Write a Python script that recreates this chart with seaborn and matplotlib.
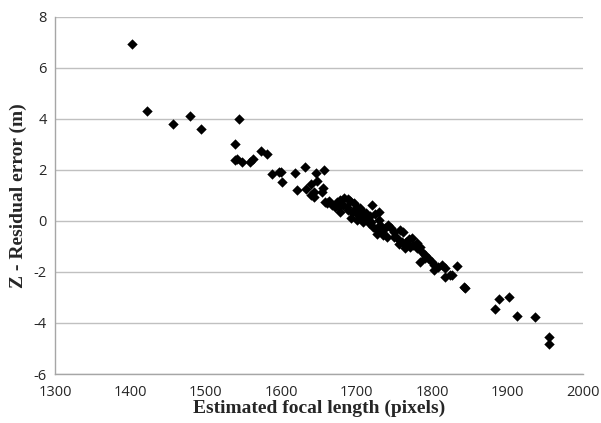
import matplotlib
matplotlib.use("Agg")
import matplotlib.pyplot as plt
import pandas as pd
import seaborn as sns

# values
focal_length = [
    1402, 1422, 1457, 1479, 1493, 1544, 1539, 1538, 1541, 1548,
    1559, 1563, 1573, 1581, 1588, 1597, 1599, 1601, 1618, 1621,
    1632, 1646, 1656, 1633, 1639, 1648, 1643, 1655, 1654, 1640,
    1643, 1658, 1661, 1663, 1667, 1671, 1674, 1678, 1683, 1688,
    1691, 1696, 1676, 1678, 1682, 1687, 1689, 1694, 1698, 1700,
    1705, 1707, 1710, 1702, 1713, 1720, 1718, 1724, 1729, 1700,
    1709, 1713, 1716, 1729, 1731, 1722, 1727, 1733, 1738, 1742,
    1745, 1735, 1740, 1749, 1753, 1758, 1762, 1760, 1766, 1773,
    1775, 1780, 1764, 1771, 1780, 1784, 1786, 1791, 1784, 1795,
    1800, 1802, 1808, 1813, 1817, 1802, 1817, 1824, 1827, 1833,
    1842, 1844, 1883, 1889, 1902, 1912, 1937, 1955, 1955,
    1693, 1704, 1719, 1727, 1750, 1756, 1769, 1790,
]
residual_z = [
    6.91, 4.31, 3.78, 4.10, 3.58, 3.98, 3.01, 2.37, 2.43, 2.30,
    2.29, 2.41, 2.75, 2.60, 1.84, 1.90, 1.93, 1.52, 1.87, 1.21,
    2.11, 1.86, 1.99, 1.23, 1.43, 1.56, 1.14, 1.27, 1.14, 1.01,
    0.94, 0.75, 0.69, 0.76, 0.62, 0.55, 0.75, 0.81, 0.88, 0.84,
    0.79, 0.69, 0.55, 0.36, 0.62, 0.55, 0.42, 0.36, 0.42, 0.55,
    0.49, 0.36, 0.29, 0.23, 0.29, 0.63, 0.19, 0.27, 0.36, 0.03,
    -0.03, 0.16, -0.10, 0.03, -0.16, -0.23, -0.36, -0.43, -0.29, -0.16,
    -0.29, -0.56, -0.62, -0.62, -0.69, -0.36, -0.43, -0.82, -0.82, -0.69,
    -0.95, -0.88, -1.08, -1.01, -1.08, -1.01, -1.21, -1.34, -1.60, -1.47,
    -1.60, -1.73, -1.80, -1.73, -1.86, -1.93, -2.19, -2.12, -2.12, -1.75,
    -2.58, -2.64, -3.45, -3.06, -3.00, -3.73, -3.77, -4.56, -4.84,
    0.10, 0.12, -0.05, -0.50, -0.45, -0.90, -0.72, -1.45,
]
x_ticks = [1300, 1400, 1500, 1600, 1700, 1800, 1900, 2000]
y_ticks = [-6, -4, -2, 0, 2, 4, 6, 8]

df = pd.DataFrame({"focal": focal_length, "resid": residual_z})

sns.set_theme(style="white")
plt.rcParams["font.family"] = ["Open Sans", "DejaVu Sans"]
plt.rcParams["axes.unicode_minus"] = False

fig = plt.figure(figsize=(6.01, 4.23), dpi=100)
ax = fig.add_axes([0.0915, 0.1158, 0.8785, 0.845])

sns.scatterplot(data=df, x="focal", y="resid", marker="D", color="black",
                s=28, linewidth=0, ax=ax, zorder=3)

ax.set_xlim(1300, 2000)
ax.set_ylim(-6, 8)
ax.set_xticks(x_ticks)
ax.set_yticks(y_ticks)
ax.yaxis.grid(True, color="#c0c0c0", linewidth=1)
ax.set_axisbelow(True)
for side in ["top", "right"]:
    ax.spines[side].set_visible(False)
for side in ["left", "bottom"]:
    ax.spines[side].set_color("#a6a6a6")
    ax.spines[side].set_linewidth(1)
ax.tick_params(axis="both", direction="out", length=4, width=1, color="#a6a6a6",
               labelsize=10.5, labelcolor="#262626", pad=2)
ax.tick_params(axis="x", pad=4)

label_font = {"family": ["Liberation Serif", "DejaVu Serif"], "weight": "bold", "size": 14}
ax.set_xlabel("Estimated focal length (pixels)", fontdict=label_font, labelpad=0)
ax.set_ylabel("Z - Residual error (m)", fontdict=label_font, labelpad=5)

fig.savefig("out.png", dpi=100)
